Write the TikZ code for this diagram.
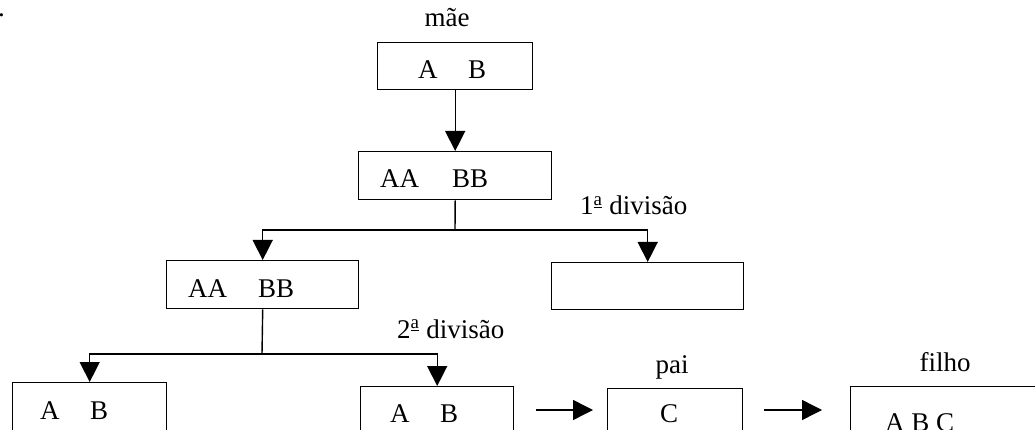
\documentclass[tikz,border=0pt]{standalone}
\usepackage{fontspec}
\setmainfont{Liberation Serif}
\usetikzlibrary{arrows.meta}
\begin{document}
\begin{tikzpicture}[x=1pt,y=-1pt,
  every node/.style={font=\fontsize{27}{32}\selectfont},
  box/.style={draw,line width=1.4pt,rectangle,inner sep=0pt,anchor=north west},
  txt/.style={inner sep=0pt,anchor=base west},
  ctxt/.style={inner sep=0pt,anchor=base},
  ln/.style={line width=1.4pt},
  arr/.style={line width=1.4pt,-{Triangle[length=20pt,width=20pt]}}]
\useasboundingbox (0,0) rectangle (1035,430);
\clip (0,0) rectangle (1035,430);
% stray dot
\node[txt] (dot) at (-2,17) {.};
% mother
\node[ctxt] (lmae) at (447,27) {mãe};
\node[box,minimum width=155pt,minimum height=47pt] (m) at (377,42) {};
\node[txt] (mA) at (418,79) {A};
\node[txt] (mB) at (468,79) {B};
% first cell
\node[box,minimum width=193pt,minimum height=48pt] (b2) at (358,151) {};
\node[txt] (b2A) at (380,188) {AA};
\node[txt] (b2B) at (452,188) {BB};
\draw[arr] (m.south) -- (b2.north);
% first division
\node[txt] (d1) at (580,215) {1\textsuperscript{\underline{a}} divisão};
\node[box,minimum width=192pt,minimum height=48pt] (b3) at (166,260) {};
\node[txt] (b3A) at (188,297) {AA};
\node[txt] (b3B) at (258,297) {BB};
\node[box,minimum width=192pt,minimum height=47pt] (br) at (551,262) {};
\coordinate (j1) at (455,230);
\draw[ln] (b2.south) -- (j1);
\draw[arr] (j1) -| (b3.north);
\draw[arr] (j1) -| (br.north);
% second division
\node[txt] (d2) at (397,338) {2\textsuperscript{\underline{a}} divisão};
\node[box,minimum width=154pt,minimum height=70pt] (b4) at (12,382) {};
\node[txt] (b4A) at (40,419) {A};
\node[txt] (b4B) at (90,419) {B};
\node[box,minimum width=153pt,minimum height=70pt] (b5) at (360,386) {};
\node[txt] (b5A) at (390,422) {A};
\node[txt] (b5B) at (440,422) {B};
\coordinate (j2) at (262,354);
\draw[ln] (b3.south) -- (j2);
\draw[arr] (j2) -| (b4.north);
\draw[arr] (j2) -| (b5.north);
% father
\node[ctxt] (lpai) at (672,373) {pai};
\node[box,minimum width=135pt,minimum height=70pt] (pai) at (607,388) {};
\node[ctxt] (paiC) at (669,422) {C};
% son
\node[ctxt] (lfilho) at (945,371) {filho};
\node[box,minimum width=220pt,minimum height=70pt] (fi) at (850,386) {};
\node[txt] (fiT) at (885,431) {A B C};
% horizontal arrows
\coordinate (y1) at (0,410);
\draw[arr,shorten <=22pt,shorten >=14pt] (b5.east |- y1) -- (pai.west |- y1);
\draw[arr,shorten <=21pt,shorten >=28pt] (pai.east |- y1) -- (fi.west |- y1);
\end{tikzpicture}
\end{document}
